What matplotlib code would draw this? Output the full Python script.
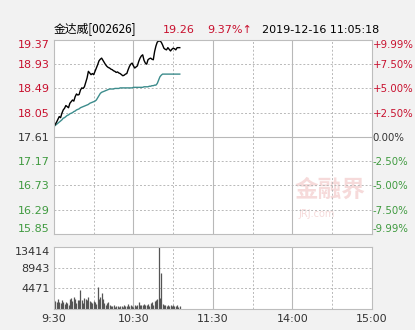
"""
Intraday time-share chart for 金达威 [002626], 2019-12-16 morning session.
"""
import matplotlib
matplotlib.use("Agg")
import matplotlib.pyplot as plt

plt.rcParams["font.family"] = ["DejaVu Sans", "Noto Sans CJK SC"]

PREV_CLOSE = 17.61
PRICE_TICKS = [19.37, 18.93, 18.49, 18.05, 17.61, 17.17, 16.73, 16.29, 15.85]
PCT_LABELS = ["+9.99%", "+7.50%", "+5.00%", "+2.50%", "0.00%",
              "-2.50%", "-5.00%", "-7.50%", "-9.99%"]
VOL_TICKS = [4471, 8943, 13414]
TIME_POS = [0, 60, 120, 180, 240]
TIME_LABELS = ["9:30", "10:30", "11:30", "14:00", "15:00"]

# one value per minute from 9:30
price = [17.80, 17.84, 17.88, 17.93, 17.98, 17.96, 18.04, 18.10, 18.13, 18.18,
         18.16, 18.14, 18.22, 18.25, 18.28, 18.26, 18.34, 18.39, 18.37, 18.38,
         18.46, 18.50, 18.49, 18.52, 18.60, 18.68, 18.80, 18.77, 18.74, 18.76,
         18.74, 18.80, 18.86, 18.92, 18.99, 19.02, 19.04, 19.00, 18.96, 18.92,
         18.89, 18.87, 18.86, 18.84, 18.83, 18.81, 18.80, 18.78, 18.79, 18.77,
         18.76, 18.74, 18.72, 18.73, 18.75, 18.76, 18.83, 18.89, 18.93, 18.95,
         18.90, 18.86, 18.88, 18.90, 18.98, 19.04, 19.08, 19.10, 19.00, 18.95,
         18.93, 19.01, 19.03, 19.04, 19.02, 19.01, 19.16, 19.26, 19.33, 19.35,
         19.35, 19.33, 19.28, 19.22, 19.20, 19.19, 19.23, 19.20, 19.17, 19.20,
         19.22, 19.21, 19.19, 19.23, 19.23, 19.23]

avg_price = [17.80, 17.82, 17.84, 17.86, 17.88, 17.90, 17.92, 17.95, 17.96, 17.98,
             18.00, 18.01, 18.03, 18.04, 18.05, 18.07, 18.08, 18.10, 18.11, 18.12,
             18.14, 18.15, 18.16, 18.17, 18.18, 18.19, 18.20, 18.22, 18.23, 18.24,
             18.25, 18.26, 18.28, 18.32, 18.36, 18.40, 18.42, 18.43, 18.44, 18.45,
             18.46, 18.47, 18.48, 18.48, 18.48, 18.48, 18.49, 18.49, 18.49, 18.49,
             18.50, 18.50, 18.50, 18.50, 18.50, 18.50, 18.50, 18.50, 18.50, 18.50,
             18.51, 18.51, 18.51, 18.51, 18.51, 18.51, 18.51, 18.51, 18.52, 18.52,
             18.52, 18.52, 18.53, 18.53, 18.54, 18.54, 18.55, 18.55, 18.58, 18.64,
             18.70, 18.73, 18.75, 18.75, 18.75, 18.75, 18.75, 18.75, 18.75, 18.75,
             18.75, 18.75, 18.75, 18.75, 18.75, 18.75]

volume = [2000, 1800, 1600, 2300, 1600, 1300, 2000, 1500, 1100, 1600,
          1300, 900, 2300, 2500, 1800, 2700, 2300, 1300, 2000, 2000,
          4200, 2000, 1300, 2500, 2300, 2000, 2700, 1800, 1600, 1300,
          1800, 1500, 1200, 4800, 2300, 2700, 3400, 2300, 1300, 900,
          1300, 1600, 1000, 700, 600, 800, 500, 700, 600, 500,
          700, 600, 500, 800, 600, 700, 1100, 600, 900, 700,
          500, 800, 700, 1000, 1500, 900, 1000, 800, 1100, 900,
          800, 1100, 700, 1300, 1500, 1000, 1700, 2000, 2300, 13414,
          2500, 7700, 1100, 1000, 800, 700, 900, 600, 800, 700,
          900, 600, 700, 800, 500, 600]

RED = "#c8102e"
GREEN = "#3f9a3f"
GRAY = "#333333"
GRID = "#b8b8b8"


def style_grid(ax):
    for m in (30, 90, 150, 210):
        ax.axvline(m, color=GRID, lw=0.7, ls=(0, (2, 2)))
    for m in (60, 120, 180):
        ax.axvline(m, color=GRID, lw=0.8)
    for s in ax.spines.values():
        s.set_color("#bdbdbd")
        s.set_linewidth(0.8)
    ax.set_xlim(0, 240)
    ax.set_xticks([])


def main():
    fig = plt.figure(figsize=(4.15, 3.30), dpi=100, facecolor="#f2f2f2")
    ax = fig.add_axes([0.130, 0.291, 0.766, 0.588], facecolor="white")
    axv = fig.add_axes([0.130, 0.063, 0.766, 0.189], facecolor="white")

    # price panel
    style_grid(ax)
    for p in PRICE_TICKS[1:-1]:
        ax.axhline(p, color=GRID, lw=0.7 if p != PREV_CLOSE else 0.8,
                   ls="-" if p == PREV_CLOSE else (0, (2, 2)))
    ax.set_ylim(PRICE_TICKS[-1], PRICE_TICKS[0])
    minutes = list(range(len(price)))
    ax.plot(minutes, avg_price, color="#3c8c8c", lw=1.0)
    ax.plot(minutes, price, color="black", lw=1.0)

    ax.set_yticks(PRICE_TICKS)
    ax.set_yticklabels([f"{p:.2f}" for p in PRICE_TICKS], fontsize=8)
    ax.tick_params(axis="y", length=0, pad=3)
    axr = ax.twinx()
    axr.set_ylim(ax.get_ylim())
    axr.set_yticks(PRICE_TICKS)
    axr.set_yticklabels(PCT_LABELS, fontsize=7.3)
    axr.tick_params(axis="y", length=0, pad=0.5)
    for s in axr.spines.values():
        s.set_visible(False)
    n = len(PRICE_TICKS)
    for i, (lt, rt) in enumerate(zip(ax.get_yticklabels(), axr.get_yticklabels())):
        p = PRICE_TICKS[i]
        c = RED if p > PREV_CLOSE else (GREEN if p < PREV_CLOSE else GRAY)
        lt.set_color(c)
        rt.set_color(c)
        if i == 0:
            lt.set_va("top"); rt.set_va("top")
        elif i == n - 1:
            lt.set_va("bottom"); rt.set_va("bottom")

    # watermark
    ax.text(208, 16.66, "金融界", fontsize=17, color="#f6dada", ha="center",
            va="center", family=["Noto Sans CJK SC"], fontweight="bold", zorder=0)
    ax.text(198, 16.22, "JRJ.com", fontsize=7, color="#f6dada", ha="center",
            va="center", zorder=0)

    # volume panel
    style_grid(axv)
    for v in VOL_TICKS[:-1]:
        axv.axhline(v, color=GRID, lw=0.7, ls=(0, (2, 2)))
    axv.vlines(minutes, 0, volume, color="#555555", lw=0.9)
    axv.set_ylim(0, VOL_TICKS[-1])
    axv.set_yticks(VOL_TICKS)
    axv.set_yticklabels([str(v) for v in VOL_TICKS], fontsize=8, color=GRAY)
    axv.tick_params(axis="y", length=0, pad=3)
    axv.get_yticklabels()[-1].set_va("top")

    for pos, lab in zip(TIME_POS, TIME_LABELS):
        axv.text(pos, -0.07, lab, transform=axv.get_xaxis_transform(),
                 ha="center", va="top", fontsize=8, color=GRAY)

    # header
    y = 1 - 30 / 330
    fig.text(54 / 415, y, "金达威[002626]", fontsize=8.5, va="center",
             family=["Noto Sans CJK SC", "DejaVu Sans"], color="black")
    fig.text(163 / 415, y, "19.26", fontsize=8, va="center", color=RED)
    fig.text(207 / 415, y, "9.37%↑", fontsize=8, va="center", color=RED)
    fig.text(262 / 415, y, "2019-12-16 11:05:18", fontsize=8, va="center",
             color="black")

    fig.savefig("out.png", dpi=100, facecolor=fig.get_facecolor())


if __name__ == "__main__":
    main()
